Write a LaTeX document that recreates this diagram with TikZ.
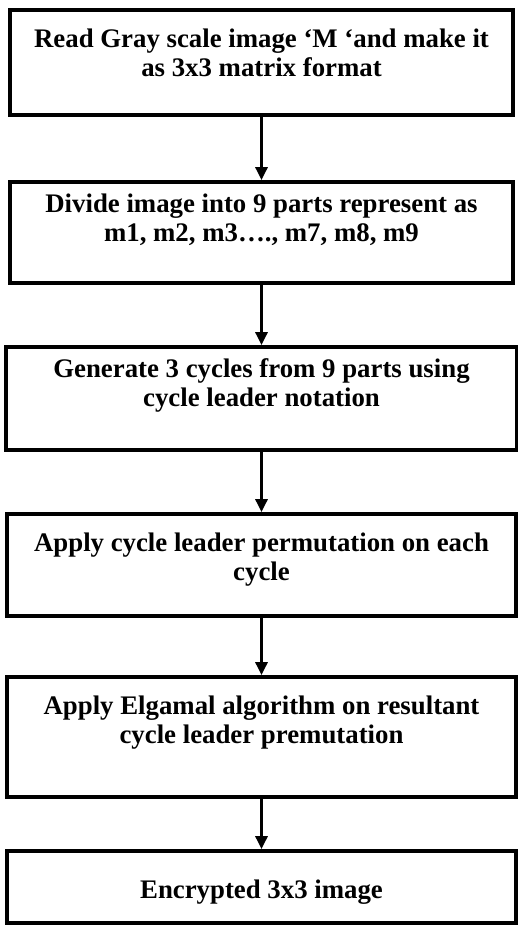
\documentclass[tikz,border=0pt]{standalone}
\usepackage{fontspec}
\setmainfont{Liberation Serif}
\usetikzlibrary{positioning,arrows.meta}
\tikzset{
  stepbox/.style={draw, line width=3.8pt, inner sep=0pt},
  steptext/.style={font=\bfseries\fontsize{26.8}{29}\selectfont, align=center, inner sep=0pt},
  flow/.style={line width=3pt, -{Triangle[length=13pt,width=12pt]}}
}
\begin{document}
\begin{tikzpicture}[x=1pt, y=-1pt]
        \useasboundingbox (0,0) rectangle (518,926);
        % boxes
        \node[stepbox, minimum width=503pt, minimum height=105pt] (b1) at (261.5,62.5) {};
        \node[stepbox, minimum width=503pt, minimum height=101pt] (b2) at (261.5,232.5) {};
        \node[stepbox, minimum width=511pt, minimum height=103pt] (b3) at (261.5,398.5) {};
        \node[stepbox, minimum width=509pt, minimum height=102pt] (b4) at (261.5,565) {};
        \node[stepbox, minimum width=509pt, minimum height=120pt] (b5) at (261.5,737) {};
        \node[stepbox, minimum width=509pt, minimum height=72pt] (b6) at (261.5,887) {};
        % texts
        \node[steptext, below=21pt of b1.north] (t1) {Read Gray scale image ‘M ‘and make it\\as 3x3 matrix format};
        \node[steptext, below=14pt of b2.north] (t2) {Divide image into 9 parts represent as\\m1, m2, m3…., m7, m8, m9};
        \node[steptext, below=13pt of b3.north] (t3) {Generate 3 cycles from 9 parts using\\cycle leader notation};
        \node[steptext, below=21pt of b4.north] (t4) {Apply cycle leader permutation on each\\cycle};
        \node[steptext, below=21pt of b5.north] (t5) {Apply Elgamal algorithm on resultant\\cycle leader premutation};
        \node[steptext, below=31pt of b6.north] (t6) {Encrypted 3x3 image};
        % arrows
        \draw[flow] (b1.south) -- (b2.north);
        \draw[flow] (b2.south) -- (b3.north);
        \draw[flow] (b3.south) -- (b4.north);
        \draw[flow] (b4.south) -- (b5.north);
        \draw[flow] (b5.south) -- (b6.north);
\end{tikzpicture}
\end{document}
